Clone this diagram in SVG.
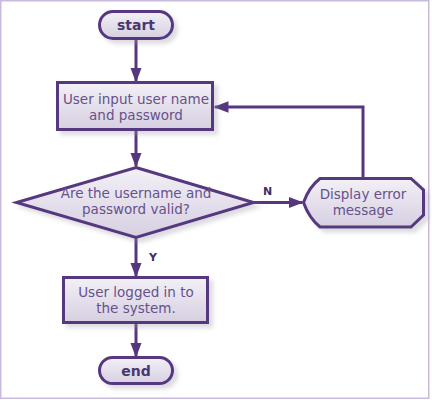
<svg xmlns="http://www.w3.org/2000/svg" width="432" height="400" viewBox="0 0 432 400">
<defs>
<linearGradient id="g" x1="0" y1="0" x2="0" y2="1">
<stop offset="0" stop-color="#f3f0f6"/>
<stop offset="1" stop-color="#d6cfe1"/>
</linearGradient>
<filter id="sh" x="-20%" y="-20%" width="150%" height="160%">
<feDropShadow dx="4" dy="4" stdDeviation="2" flood-color="#9a9aa8" flood-opacity="0.35"/>
</filter>
<marker id="ah" viewBox="0 0 10 10" refX="9" refY="5" markerWidth="5" markerHeight="5" markerUnits="strokeWidth" orient="auto">
<path d="M0,1.2 L10,5 L0,8.8 z" fill="#55377f"/>
</marker>
<style>
.n{fill:url(#g);stroke:#55377f;stroke-width:3;filter:url(#sh)}
.t{font-family:"DejaVu Sans",Verdana,sans-serif;font-size:13.5px;fill:#65528c;text-anchor:middle}
.b{font-family:"DejaVu Sans",Verdana,sans-serif;font-size:14px;font-weight:bold;fill:#4a3670;text-anchor:middle}
.c{fill:none;stroke:#55377f;stroke-width:3;marker-end:url(#ah)}
.l{font-family:"DejaVu Sans",Verdana,sans-serif;font-size:11px;font-weight:bold;fill:#3f2d62}
</style>
</defs>
<rect x="0.75" y="0.75" width="428" height="397.5" fill="#ffffff" stroke="#c8badb" stroke-width="1.5"/>
<g id="connectors">
<path class="c" d="M136,39 V81"/>
<path class="c" d="M136,130 V166"/>
<path class="c" d="M254,202.5 H302"/>
<path class="c" d="M363,178 V107 H215"/>
<path class="c" d="M136,238 V276"/>
<path class="c" d="M136,323 V356"/>
<text class="l" x="263" y="195">N</text>
<text class="l" x="149" y="261">Y</text>
</g>
<g id="start">
<rect class="n" x="99.5" y="11.5" width="73" height="27" rx="13.5"/>
<text class="b" x="136" y="30">start</text>
</g>
<g id="input">
<rect class="n" x="57.5" y="82.5" width="155" height="47"/>
<text class="t" x="136" y="103.5">User input user name</text>
<text class="t" x="136" y="120">and password</text>
</g>
<g id="decision">
<path class="n" d="M136,167.5 L253.5,202.5 L136,237.5 L16.5,202.5 Z"/>
<text class="t" x="136" y="197.5">Are the username and</text>
<text class="t" x="136" y="214">password valid?</text>
</g>
<g id="display">
<path class="n" d="M320,178.5 H411 L423.5,190 V215 L411,227 H320 Q309,218 303.5,202.5 Q309,187 320,178.5 Z"/>
<text class="t" x="363" y="198.5">Display error</text>
<text class="t" x="363" y="215">message</text>
</g>
<g id="logged">
<rect class="n" x="63.5" y="277.5" width="144" height="45"/>
<text class="t" x="136" y="296.5">User logged in to</text>
<text class="t" x="136" y="312.5">the system.</text>
</g>
<g id="end">
<rect class="n" x="99.5" y="357.5" width="73" height="26" rx="13"/>
<text class="b" x="136" y="375.5">end</text>
</g>
</svg>
